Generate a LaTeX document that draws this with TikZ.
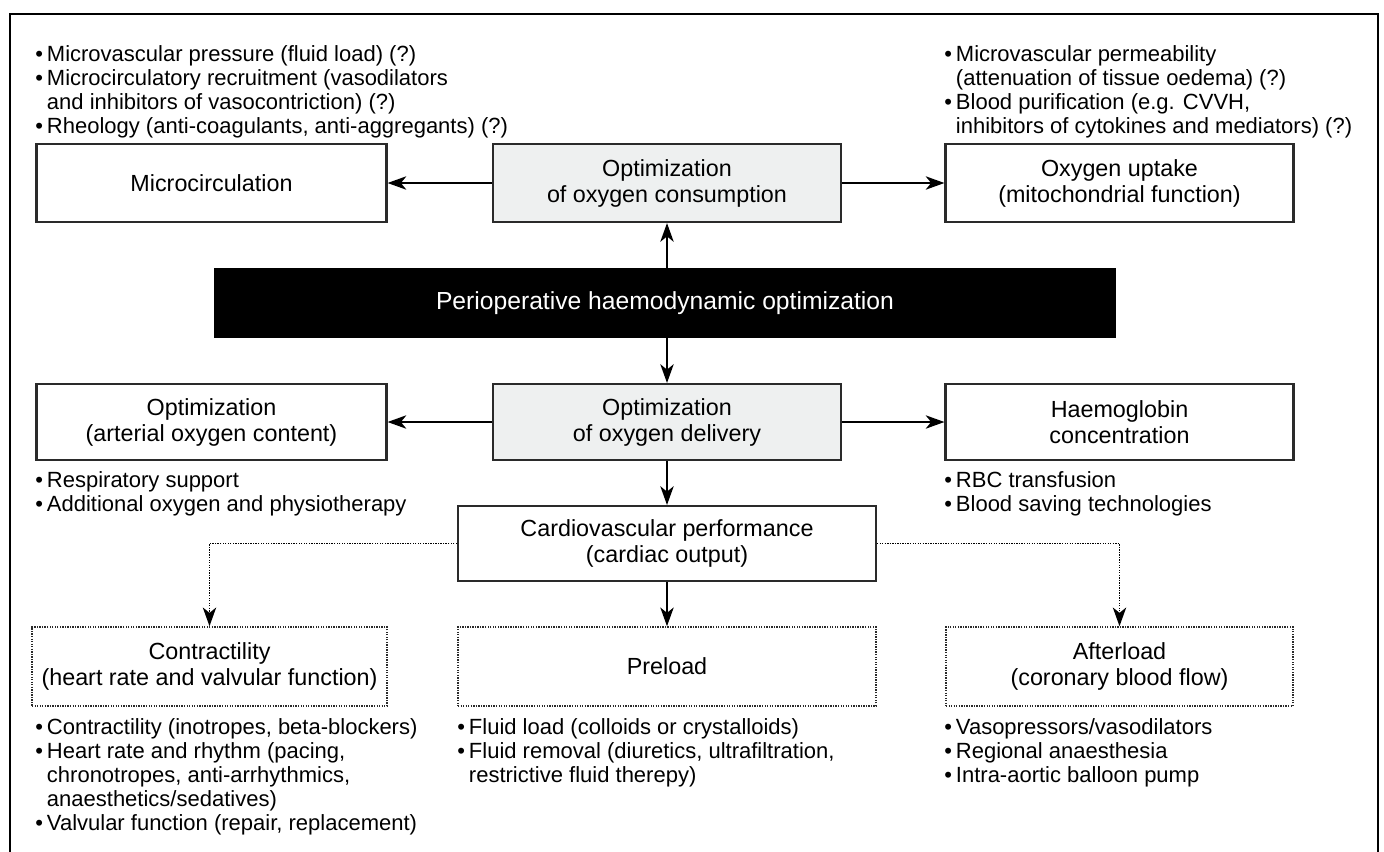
\documentclass[tikz,border=0pt]{standalone}
\usepackage{fontspec}
\setmainfont{Liberation Sans}
\usetikzlibrary{arrows.meta}
\definecolor{boxgray}{HTML}{EEF0F0}
\definecolor{linegray}{HTML}{2A2A2A}
\begin{document}
\begin{tikzpicture}[x=0.75pt,y=-0.75pt,
 box/.style={draw=linegray,line width=1.6pt,inner sep=0pt,align=center,font=\fontsize{17.5}{19.5}\selectfont},
 gbox/.style={box,fill=boxgray},
 dbox/.style={box,line width=1.2pt,dash pattern=on 1pt off 0.9pt},
 arr/.style={line width=1.6pt,-{Stealth[length=14pt,width=10pt,inset=4pt]}},
 darr/.style={line width=1.2pt,dash pattern=on 1pt off 0.9pt,-{Stealth[length=14pt,width=10pt,inset=4pt]}},
 blist/.style={anchor=north west,inner sep=0pt,align=left,font=\fontsize{16.5}{18}\selectfont}
]
\useasboundingbox (0,0) rectangle (1384,851);
\draw[line width=1.8pt] (10,852) -- (10,14) -- (1378,14) -- (1378,852);

% top bullets
\node[blist] (tl) at (35,44) {\begin{tabular}{@{}l@{\hspace{3pt}}l@{}}
\textbullet & Microvascular pressure (fluid load) (?)\\
\textbullet & Microcirculatory recruitment (vasodilators\\
 & and inhibitors of vasocontriction) (?)\\
\textbullet & Rheology (anti-coagulants, anti-aggregants) (?)
\end{tabular}};
\node[blist] (tr) at (944,44) {\begin{tabular}{@{}l@{\hspace{3pt}}l@{}}
\textbullet & Microvascular permeability\\
 & (attenuation of tissue oedema) (?)\\
\textbullet & Blood purification (e.g. CVVH,\\
 & inhibitors of cytokines and mediators) (?)
\end{tabular}};

% row 1
\node[box,minimum width=262.5pt,minimum height=58.5pt] (micro) at (211.5,183) {Microcirculation};
\node[gbox,minimum width=261pt,minimum height=58.5pt] (cons) at (667,183) {Optimization\\of oxygen consumption};
\node[box,minimum width=261pt,minimum height=58.5pt] (uptake) at (1119.5,183) {Oxygen uptake\\(mitochondrial function)};

% black bar
\node[fill=black,text=white,inner sep=0pt,minimum width=676.5pt,minimum height=52.5pt,font=\fontsize{18.5}{20}\selectfont] (peri) at (665,303) {Perioperative haemodynamic optimization};

% row 2
\node[box,minimum width=262.5pt,minimum height=57pt] (art) at (211.5,422) {Optimization\\(arterial oxygen content)};
\node[gbox,minimum width=261pt,minimum height=57pt] (del) at (667,422) {Optimization\\of oxygen delivery};
\node[box,minimum width=261pt,minimum height=57pt] (hb) at (1119.5,422) {Haemoglobin\\concentration};

\node[blist] (artl) at (35,470) {\begin{tabular}{@{}l@{\hspace{3pt}}l@{}}
\textbullet & Respiratory support\\
\textbullet & Additional oxygen and physiotherapy
\end{tabular}};
\node[blist] (hbl) at (944,470) {\begin{tabular}{@{}l@{\hspace{3pt}}l@{}}
\textbullet & RBC transfusion\\
\textbullet & Blood saving technologies
\end{tabular}};

% row 3
\node[box,minimum width=313.5pt,minimum height=56.25pt] (cardio) at (667,543.5) {Cardiovascular performance\\(cardiac output)};

% row 4
\node[dbox,minimum width=266.25pt,minimum height=59.25pt] (contr) at (209.5,666.5) {Contractility\\(heart rate and valvular function)};
\node[dbox,minimum width=313.5pt,minimum height=59.25pt] (pre) at (667,666.5) {Preload};
\node[dbox,minimum width=260.25pt,minimum height=59.25pt] (after) at (1119.5,666.5) {Afterload\\(coronary blood flow)};

\node[blist] (contrl) at (35,717) {\begin{tabular}{@{}l@{\hspace{3pt}}l@{}}
\textbullet & Contractility (inotropes, beta-blockers)\\
\textbullet & Heart rate and rhythm (pacing,\\
 & chronotropes, anti-arrhythmics,\\
 & anaesthetics/sedatives)\\
\textbullet & Valvular function (repair, replacement)
\end{tabular}};
\node[blist] (prel) at (457,717) {\begin{tabular}{@{}l@{\hspace{3pt}}l@{}}
\textbullet & Fluid load (colloids or crystalloids)\\
\textbullet & Fluid removal (diuretics, ultrafiltration,\\
 & restrictive fluid therepy)
\end{tabular}};
\node[blist] (afterl) at (944,717) {\begin{tabular}{@{}l@{\hspace{3pt}}l@{}}
\textbullet & Vasopressors/vasodilators\\
\textbullet & Regional anaesthesia\\
\textbullet & Intra-aortic balloon pump
\end{tabular}};

% connectors
\draw[arr] (cons.west) -- (micro.east);
\draw[arr] (cons.east) -- (uptake.west);
\draw[arr] (cons.south |- peri.north) -- (cons.south);
\draw[arr] (del.north |- peri.south) -- (del.north);
\draw[arr] (del.west) -- (art.east);
\draw[arr] (del.east) -- (hb.west);
\draw[arr] (del.south) -- (cardio.north);
\draw[arr] (cardio.south) -- (pre.north);
\draw[darr] (cardio.west) -| (contr.north);
\draw[darr] (cardio.east) -| (after.north);
\end{tikzpicture}
\end{document}
